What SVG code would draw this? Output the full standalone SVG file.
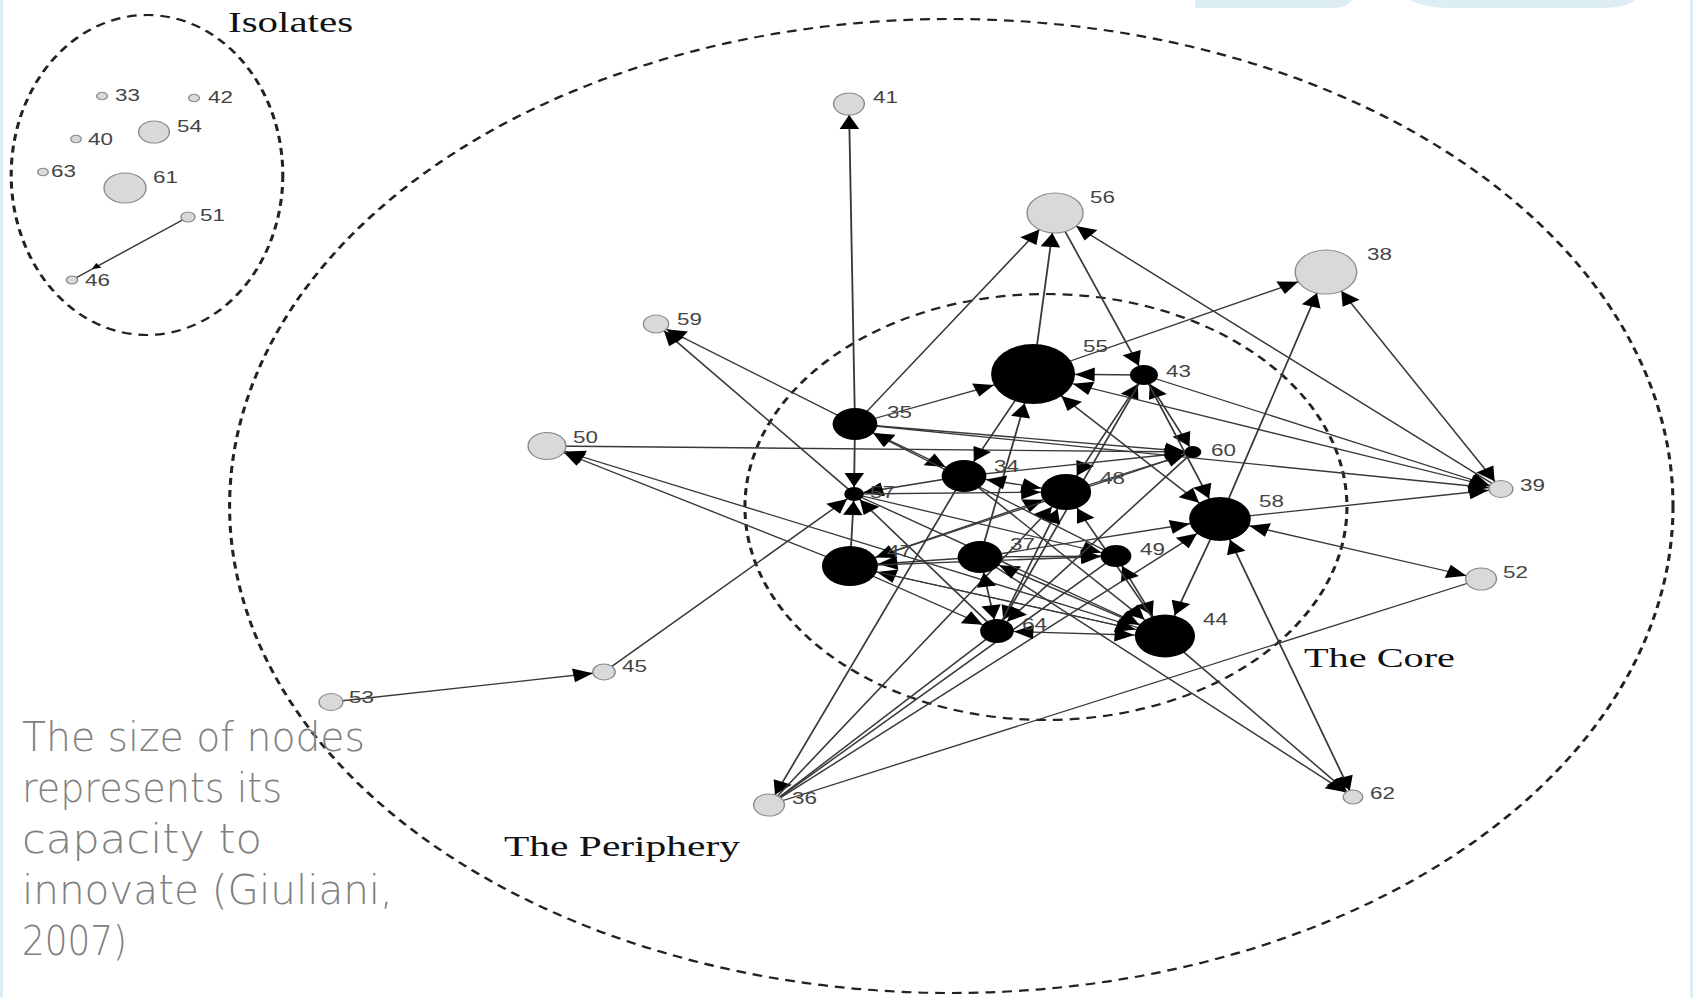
<svg xmlns="http://www.w3.org/2000/svg" width="1693" height="998" viewBox="0 0 1693 998">
<style>
.e{stroke:#383838;stroke-width:1.3;fill:none}
.g{fill:#d9d9d9;stroke:#8a8a8a;stroke-width:1}
.b{fill:#000}
.lb{font-family:"Liberation Sans",Arial,sans-serif;font-size:16px;fill:#444}
.ti{font-family:"Liberation Serif","Times New Roman",serif;fill:#111}
.dash{fill:none;stroke:#222;stroke-width:2.2;stroke-dasharray:7 5}
.cap{font-family:"DejaVu Sans","Liberation Sans",sans-serif;font-weight:200;font-size:40px;fill:#808080}
.bg{fill:#dcedf4}
</style>
<defs>
<marker id="m6" markerUnits="userSpaceOnUse" refX="6" refY="0" orient="auto-start-reverse" overflow="visible"><path d="M0,0 L-14,-7 L-14,7 Z" fill="#000"/></marker>
<marker id="m7" markerUnits="userSpaceOnUse" refX="7" refY="0" orient="auto-start-reverse" overflow="visible"><path d="M0,0 L-14,-7 L-14,7 Z" fill="#000"/></marker>
<marker id="m8" markerUnits="userSpaceOnUse" refX="8" refY="0" orient="auto-start-reverse" overflow="visible"><path d="M0,0 L-14,-7 L-14,7 Z" fill="#000"/></marker>
<marker id="m9" markerUnits="userSpaceOnUse" refX="9" refY="0" orient="auto-start-reverse" overflow="visible"><path d="M0,0 L-14,-7 L-14,7 Z" fill="#000"/></marker>
<marker id="m10" markerUnits="userSpaceOnUse" refX="10" refY="0" orient="auto-start-reverse" overflow="visible"><path d="M0,0 L-14,-7 L-14,7 Z" fill="#000"/></marker>
<marker id="m11" markerUnits="userSpaceOnUse" refX="11" refY="0" orient="auto-start-reverse" overflow="visible"><path d="M0,0 L-14,-7 L-14,7 Z" fill="#000"/></marker>
<marker id="m12" markerUnits="userSpaceOnUse" refX="12" refY="0" orient="auto-start-reverse" overflow="visible"><path d="M0,0 L-14,-7 L-14,7 Z" fill="#000"/></marker>
<marker id="m14" markerUnits="userSpaceOnUse" refX="14" refY="0" orient="auto-start-reverse" overflow="visible"><path d="M0,0 L-14,-7 L-14,7 Z" fill="#000"/></marker>
<marker id="m16" markerUnits="userSpaceOnUse" refX="16" refY="0" orient="auto-start-reverse" overflow="visible"><path d="M0,0 L-14,-7 L-14,7 Z" fill="#000"/></marker>
<marker id="m18" markerUnits="userSpaceOnUse" refX="18" refY="0" orient="auto-start-reverse" overflow="visible"><path d="M0,0 L-14,-7 L-14,7 Z" fill="#000"/></marker>
<marker id="m20" markerUnits="userSpaceOnUse" refX="20" refY="0" orient="auto-start-reverse" overflow="visible"><path d="M0,0 L-14,-7 L-14,7 Z" fill="#000"/></marker>
<marker id="m22" markerUnits="userSpaceOnUse" refX="22" refY="0" orient="auto-start-reverse" overflow="visible"><path d="M0,0 L-14,-7 L-14,7 Z" fill="#000"/></marker>
<marker id="m30" markerUnits="userSpaceOnUse" refX="30" refY="0" orient="auto-start-reverse" overflow="visible"><path d="M0,0 L-14,-7 L-14,7 Z" fill="#000"/></marker>
<marker id="s18" markerUnits="userSpaceOnUse" refX="18" refY="0" orient="auto" overflow="visible"><path d="M0,0 L-6,-3 L-6,3 Z" fill="#000"/></marker>
</defs>
<rect width="1693" height="998" fill="#fff"/>
<g id="decor">
<rect class="bg" x="0" y="0" width="3" height="998"/>
<rect class="bg" x="1690" y="0" width="3" height="998"/>
<path class="bg" d="M1195,0 L1195,8 L1335,8 Q1347,7 1352,0 Z"/>
<path class="bg" d="M1410,0 Q1425,8 1450,8 L1600,8 Q1625,8 1635,0 Z"/>
</g>
<g transform="scale(1.4 1)">
<g id="regions">
<ellipse class="dash" cx="105" cy="175" rx="97" ry="160"/>
<ellipse class="dash" cx="679.5" cy="506" rx="515.5" ry="487"/>
<ellipse class="dash" cx="747.1" cy="507" rx="215" ry="213"/>
<text class="ti" x="162.9" y="32" font-size="30" textLength="89.3" lengthAdjust="spacingAndGlyphs">Isolates</text>
<text class="ti" x="931.4" y="667" font-size="28" textLength="107.9" lengthAdjust="spacingAndGlyphs">The Core</text>
<text class="ti" x="360" y="856" font-size="30" textLength="168.6" lengthAdjust="spacingAndGlyphs">The Periphery</text>
</g>
<g id="connectors" class="e">
<line x1="134.3" y1="217" x2="51.4" y2="280" marker-end="url(#s18)"/>
<line x1="610.7" y1="424" x2="606.4" y2="104" marker-end="url(#m11)"/>
<line x1="610.7" y1="424" x2="753.6" y2="213" marker-end="url(#m20)"/>
<line x1="737.9" y1="374" x2="753.6" y2="213" marker-end="url(#m20)"/>
<line x1="753.6" y1="213" x2="817.1" y2="375" marker-end="url(#m10)"/>
<line x1="1072.1" y1="489" x2="753.6" y2="213" marker-end="url(#m20)"/>
<line x1="871.4" y1="519" x2="947.1" y2="272" marker-end="url(#m22)"/>
<line x1="737.9" y1="374" x2="947.1" y2="272" marker-end="url(#m22)"/>
<line x1="947.1" y1="272" x2="1072.1" y2="489" marker-start="url(#m22)" marker-end="url(#m9)"/>
<line x1="610.7" y1="424" x2="468.6" y2="324" marker-end="url(#m9)"/>
<line x1="610" y1="494" x2="468.6" y2="324" marker-end="url(#m9)"/>
<line x1="390.7" y1="446" x2="852.1" y2="452" marker-end="url(#m6)"/>
<line x1="607.1" y1="566" x2="390.7" y2="446" marker-end="url(#m14)"/>
<line x1="832.1" y1="636" x2="390.7" y2="446" marker-end="url(#m14)"/>
<line x1="236.4" y1="702" x2="431.4" y2="672" marker-end="url(#m8)"/>
<line x1="431.4" y1="672" x2="610" y2="494" marker-end="url(#m7)"/>
<line x1="737.9" y1="374" x2="1072.1" y2="489" marker-start="url(#m30)" marker-end="url(#m9)"/>
<line x1="817.1" y1="375" x2="1072.1" y2="489" marker-end="url(#m9)"/>
<line x1="610.7" y1="424" x2="1072.1" y2="489" marker-end="url(#m9)"/>
<line x1="871.4" y1="519" x2="1072.1" y2="489" marker-end="url(#m9)"/>
<line x1="871.4" y1="519" x2="1057.9" y2="579" marker-start="url(#m22)" marker-end="url(#m11)"/>
<line x1="1057.9" y1="579" x2="549.3" y2="805"/>
<line x1="871.4" y1="519" x2="966.4" y2="797" marker-start="url(#m22)" marker-end="url(#m7)"/>
<line x1="832.1" y1="636" x2="966.4" y2="797" marker-end="url(#m7)"/>
<line x1="700" y1="557" x2="966.4" y2="797" marker-end="url(#m7)"/>
<line x1="688.6" y1="476" x2="549.3" y2="805" marker-end="url(#m11)"/>
<line x1="549.3" y1="805" x2="761.4" y2="492" marker-end="url(#m18)"/>
<line x1="549.3" y1="805" x2="712.1" y2="631"/>
<line x1="549.3" y1="805" x2="797.1" y2="556"/>
<line x1="549.3" y1="805" x2="871.4" y2="519" marker-end="url(#m22)"/>
<line x1="610.7" y1="424" x2="737.9" y2="374" marker-end="url(#m30)"/>
<line x1="610.7" y1="424" x2="610" y2="494" marker-end="url(#m7)"/>
<line x1="607.1" y1="566" x2="610" y2="494" marker-end="url(#m7)"/>
<line x1="610.7" y1="424" x2="852.1" y2="452" marker-end="url(#m6)"/>
<line x1="610.7" y1="424" x2="688.6" y2="476" marker-start="url(#m16)" marker-end="url(#m16)"/>
<line x1="737.9" y1="374" x2="688.6" y2="476" marker-end="url(#m16)"/>
<line x1="700" y1="557" x2="737.9" y2="374" marker-end="url(#m30)"/>
<line x1="817.1" y1="375" x2="761.4" y2="492" marker-start="url(#m10)" marker-end="url(#m18)"/>
<line x1="817.1" y1="375" x2="712.1" y2="631" marker-end="url(#m12)"/>
<line x1="817.1" y1="375" x2="852.1" y2="452" marker-start="url(#m10)" marker-end="url(#m6)"/>
<line x1="817.1" y1="375" x2="871.4" y2="519" marker-end="url(#m22)"/>
<line x1="737.9" y1="374" x2="871.4" y2="519" marker-start="url(#m30)" marker-end="url(#m22)"/>
<line x1="871.4" y1="519" x2="832.1" y2="636" marker-end="url(#m22)"/>
<line x1="797.1" y1="556" x2="832.1" y2="636" marker-start="url(#m11)" marker-end="url(#m22)"/>
<line x1="688.6" y1="476" x2="610" y2="494" marker-end="url(#m7)"/>
<line x1="610" y1="494" x2="761.4" y2="492" marker-end="url(#m18)"/>
<line x1="700" y1="557" x2="607.1" y2="566" marker-end="url(#m20)"/>
<line x1="607.1" y1="566" x2="761.4" y2="492" marker-end="url(#m18)"/>
<line x1="832.1" y1="636" x2="607.1" y2="566" marker-end="url(#m20)"/>
<line x1="700" y1="557" x2="871.4" y2="519" marker-end="url(#m22)"/>
<line x1="700" y1="557" x2="797.1" y2="556" marker-end="url(#m11)"/>
<line x1="700" y1="557" x2="832.1" y2="636" marker-start="url(#m16)" marker-end="url(#m22)"/>
<line x1="607.1" y1="566" x2="832.1" y2="636" marker-end="url(#m22)"/>
<line x1="610" y1="494" x2="832.1" y2="636" marker-end="url(#m22)"/>
<line x1="688.6" y1="476" x2="832.1" y2="636" marker-end="url(#m22)"/>
<line x1="712.1" y1="631" x2="832.1" y2="636" marker-start="url(#m12)" marker-end="url(#m22)"/>
<line x1="700" y1="557" x2="712.1" y2="631" marker-start="url(#m16)" marker-end="url(#m12)"/>
<line x1="712.1" y1="631" x2="610" y2="494" marker-end="url(#m7)"/>
<line x1="712.1" y1="631" x2="761.4" y2="492" marker-end="url(#m18)"/>
<line x1="832.1" y1="636" x2="761.4" y2="492" marker-end="url(#m18)"/>
<line x1="688.6" y1="476" x2="761.4" y2="492" marker-start="url(#m16)" marker-end="url(#m18)"/>
<line x1="688.6" y1="476" x2="852.1" y2="452" marker-end="url(#m6)"/>
<line x1="610" y1="494" x2="797.1" y2="556" marker-end="url(#m11)"/>
<line x1="852.1" y1="452" x2="607.1" y2="566" marker-end="url(#m20)"/>
<line x1="761.4" y1="492" x2="852.1" y2="452" marker-end="url(#m6)"/>
<line x1="797.1" y1="556" x2="610.7" y2="424" marker-end="url(#m16)"/>
<line x1="607.1" y1="566" x2="797.1" y2="556" marker-end="url(#m11)"/>
<line x1="852.1" y1="452" x2="712.1" y2="631" marker-end="url(#m12)"/>
<line x1="607.1" y1="566" x2="712.1" y2="631" marker-end="url(#m12)"/>
<line x1="817.1" y1="375" x2="737.9" y2="374" marker-end="url(#m30)"/>
</g>
<g id="n33"><circle class="g" cx="72.9" cy="96" r="3.8"/><text class="lb" x="82.1" y="101">33</text></g>
<g id="n42"><circle class="g" cx="138.6" cy="98" r="3.8"/><text class="lb" x="148.6" y="103">42</text></g>
<g id="n54"><circle class="g" cx="110" cy="132" r="11"/><text class="lb" x="126.4" y="132">54</text></g>
<g id="n40"><circle class="g" cx="54.3" cy="139" r="3.8"/><text class="lb" x="62.9" y="145">40</text></g>
<g id="n63"><circle class="g" cx="30.7" cy="172" r="3.8"/><text class="lb" x="36.4" y="177">63</text></g>
<g id="n61"><circle class="g" cx="89.3" cy="188" r="15"/><text class="lb" x="109.3" y="183">61</text></g>
<g id="n51"><circle class="g" cx="134.3" cy="217" r="5"/><text class="lb" x="142.9" y="221">51</text></g>
<g id="n46"><circle class="g" cx="51.4" cy="280" r="4"/><text class="lb" x="60.7" y="286">46</text></g>
<g id="n41"><circle class="g" cx="606.4" cy="104" r="11"/><text class="lb" x="623.6" y="103">41</text></g>
<g id="n56"><circle class="g" cx="753.6" cy="213" r="20"/><text class="lb" x="778.6" y="203">56</text></g>
<g id="n38"><circle class="g" cx="947.1" cy="272" r="22"/><text class="lb" x="976.4" y="260">38</text></g>
<g id="n59"><circle class="g" cx="468.6" cy="324" r="9"/><text class="lb" x="483.6" y="325">59</text></g>
<g id="n55"><circle class="b" cx="737.9" cy="374" r="30"/><text class="lb" x="773.6" y="352">55</text></g>
<g id="n43"><circle class="b" cx="817.1" cy="375" r="10"/><text class="lb" x="832.9" y="377">43</text></g>
<g id="n35"><circle class="b" cx="610.7" cy="424" r="16"/><text class="lb" x="633.6" y="418">35</text></g>
<g id="n50"><circle class="g" cx="390.7" cy="446" r="13.5"/><text class="lb" x="409.3" y="443">50</text></g>
<g id="n60"><circle class="b" cx="852.1" cy="452" r="6"/><text class="lb" x="865" y="456">60</text></g>
<g id="n34"><circle class="b" cx="688.6" cy="476" r="16"/><text class="lb" x="710" y="472">34</text></g>
<g id="n48"><circle class="b" cx="761.4" cy="492" r="18"/><text class="lb" x="785.7" y="484">48</text></g>
<g id="n57"><circle class="b" cx="610" cy="494" r="7"/><text class="lb" x="621.4" y="498">57</text></g>
<g id="n39"><circle class="g" cx="1072.1" cy="489" r="8.5"/><text class="lb" x="1085.7" y="491">39</text></g>
<g id="n58"><circle class="b" cx="871.4" cy="519" r="22"/><text class="lb" x="899.3" y="507">58</text></g>
<g id="n47"><circle class="b" cx="607.1" cy="566" r="20"/><text class="lb" x="633.6" y="557">47</text></g>
<g id="n37"><circle class="b" cx="700" cy="557" r="16"/><text class="lb" x="721.4" y="550">37</text></g>
<g id="n49"><circle class="b" cx="797.1" cy="556" r="11"/><text class="lb" x="814.3" y="555">49</text></g>
<g id="n52"><circle class="g" cx="1057.9" cy="579" r="11"/><text class="lb" x="1073.6" y="578">52</text></g>
<g id="n64"><circle class="b" cx="712.1" cy="631" r="12"/><text class="lb" x="730" y="630">64</text></g>
<g id="n44"><circle class="b" cx="832.1" cy="636" r="21.5"/><text class="lb" x="859.3" y="625">44</text></g>
<g id="n45"><circle class="g" cx="431.4" cy="672" r="8"/><text class="lb" x="444.3" y="672">45</text></g>
<g id="n53"><circle class="g" cx="236.4" cy="702" r="8.5"/><text class="lb" x="249.3" y="703">53</text></g>
<g id="n36"><circle class="g" cx="549.3" cy="805" r="11"/><text class="lb" x="565.7" y="804">36</text></g>
<g id="n62"><circle class="g" cx="966.4" cy="797" r="7"/><text class="lb" x="978.6" y="799">62</text></g>
</g>
<g id="caption">
<text class="cap" x="22" y="751" textLength="343" lengthAdjust="spacingAndGlyphs">The size of nodes</text>
<text class="cap" x="22" y="802" textLength="260" lengthAdjust="spacingAndGlyphs">represents its</text>
<text class="cap" x="22" y="853" textLength="240" lengthAdjust="spacingAndGlyphs">capacity to</text>
<text class="cap" x="22" y="904" textLength="371" lengthAdjust="spacingAndGlyphs">innovate (Giuliani,</text>
<text class="cap" x="22" y="955" textLength="105" lengthAdjust="spacingAndGlyphs">2007)</text>
</g>
</svg>
